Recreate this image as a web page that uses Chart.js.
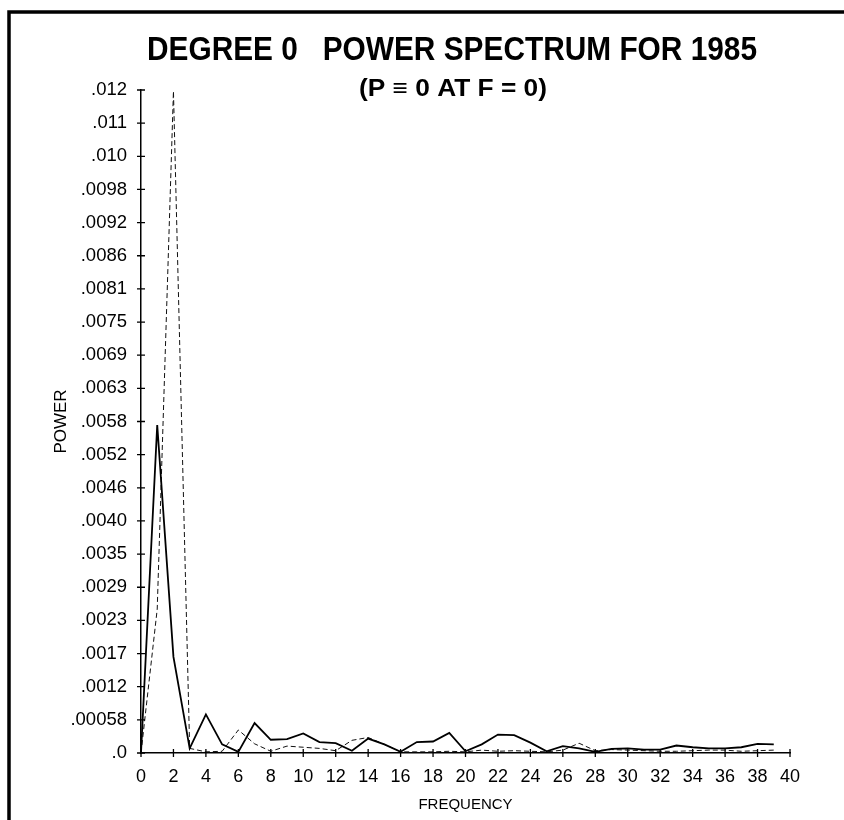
<!DOCTYPE html>
<html>
<head>
    <title>Degree 0 Power Spectrum for 1985</title>
    <script src="https://cdn.jsdelivr.net/npm/chart.js"></script>
    <style>
        html, body {
            margin: 0;
            padding: 0;
            background: #fff;
        }
        #wrap {
            position: relative;
            width: 844px;
            height: 820px;
        }
    </style>
</head>
<body>
    <div id="wrap">
        <canvas id="spectrumChart" width="844" height="820"></canvas>
    </div>

    <script>
        // frequency (cycles per year)
        const frequency = [0, 1, 2, 3, 4, 5, 6, 7, 8, 9, 10, 11, 12, 13, 14, 15, 16, 17, 18, 19,
                           20, 21, 22, 23, 24, 25, 26, 27, 28, 29, 30, 31, 32, 33, 34, 35, 36, 37, 38, 39];

        // solid curve
        const powerSolid = [0, 0.0057, 0.00167, 0.00008, 0.00067, 0.00015, 0.00002, 0.00052, 0.00023, 0.00024,
                            0.00034, 0.00019, 0.00017, 0.00004, 0.00025, 0.00015, 0.00002, 0.00019, 0.0002, 0.00035,
                            0.00003, 0.00015, 0.00032, 0.00031, 0.00018, 0.00003, 0.00012, 0.00008, 0.00002, 0.00007,
                            0.00008, 0.00006, 0.00006, 0.00013, 0.0001, 0.00008, 0.00008, 0.0001, 0.00016, 0.00015];

        // dashed curve
        const powerDashed = [0, 0.0025, 0.0115, 0.00008, 0.00002, 0.00003, 0.0004, 0.00016, 0.00003, 0.00012,
                             0.0001, 0.00008, 0.00004, 0.00022, 0.00027, 0.00015, 0.00002, 0.00002, 0.00002, 0.00003,
                             0.00002, 0.00005, 0.00003, 0.00004, 0.00003, 0.00002, 0.00005, 0.00017, 0.00004, 0.00006,
                             0.00005, 0.00004, 0.00003, 0.00003, 0.00004, 0.00005, 0.00005, 0.00003, 0.00004, 0.00005];

        // y axis labels as printed (21 evenly spaced ticks)
        const yTickLabels = ['.0', '.00058', '.0012', '.0017', '.0023', '.0029', '.0035', '.0040', '.0046', '.0052',
                             '.0058', '.0063', '.0069', '.0075', '.0081', '.0086', '.0092', '.0098', '.010', '.011', '.012'];
        const yMax = 0.01152;

        const xTickLabels = ['0', '2', '4', '6', '8', '10', '12', '14', '16', '18', '20',
                             '22', '24', '26', '28', '30', '32', '34', '36', '38', '40'];

        const titleText = 'DEGREE 0   POWER SPECTRUM FOR 1985';
        const subtitleText = '(P \u2261 0 AT F = 0)';

        const FONT = "'Liberation Sans', Arial, Helvetica, sans-serif";

        // frame, titles and tick marks that cross the axes
        const decor = {
            id: 'decor',
            beforeDraw(chart) {
                const ctx = chart.ctx;
                ctx.save();
                ctx.fillStyle = '#fff';
                ctx.fillRect(0, 0, chart.width, chart.height);
                ctx.strokeStyle = '#000';
                ctx.lineWidth = 3.5;
                ctx.beginPath();
                ctx.moveTo(9, 820);
                ctx.lineTo(9, 12);
                ctx.lineTo(844, 12);
                ctx.stroke();
                ctx.restore();
            },
            afterDraw(chart) {
                const ctx = chart.ctx;
                const area = chart.chartArea;
                ctx.save();
                ctx.fillStyle = '#000';
                ctx.textAlign = 'center';
                ctx.textBaseline = 'alphabetic';

                // squeezed bold titles
                ctx.font = 'bold 34px ' + FONT;
                let w = ctx.measureText(titleText).width;
                ctx.save();
                ctx.translate(452, 60);
                ctx.scale(610 / w, 1);
                ctx.fillText(titleText, 0, 0);
                ctx.restore();

                ctx.font = 'bold 24px ' + FONT;
                w = ctx.measureText(subtitleText).width;
                ctx.save();
                ctx.translate(453, 96);
                ctx.scale(188 / w, 1);
                ctx.fillText(subtitleText, 0, 0);
                ctx.restore();

                // tick marks crossing the axes
                ctx.strokeStyle = '#000';
                ctx.lineWidth = 1.3;
                ctx.beginPath();
                const ys = chart.scales.y;
                ys.ticks.forEach((t, i) => {
                    const py = ys.getPixelForTick(i);
                    ctx.moveTo(area.left - 4, py);
                    ctx.lineTo(area.left + 4, py);
                });
                const xs = chart.scales.x;
                xs.ticks.forEach((t, i) => {
                    const px = xs.getPixelForTick(i);
                    ctx.moveTo(px, area.bottom - 4);
                    ctx.lineTo(px, area.bottom + 4);
                });
                ctx.stroke();
                ctx.restore();
            }
        };

        const ctx = document.getElementById('spectrumChart').getContext('2d');
        const chart = new Chart(ctx, {
            type: 'line',
            plugins: [decor],
            data: {
                datasets: [
                    {
                        label: 'solid',
                        data: frequency.map((f, i) => ({ x: f, y: powerSolid[i] })),
                        borderColor: '#000',
                        borderWidth: 1.8,
                        pointRadius: 0,
                        tension: 0,
                        fill: false
                    },
                    {
                        label: 'dashed',
                        data: frequency.map((f, i) => ({ x: f, y: powerDashed[i] })),
                        borderColor: '#111',
                        borderWidth: 1,
                        borderDash: [5, 3],
                        pointRadius: 0,
                        tension: 0,
                        fill: false
                    }
                ]
            },
            options: {
                responsive: false,
                animation: false,
                layout: {
                    padding: { top: 90, right: 54, left: 0, bottom: 0 }
                },
                plugins: {
                    legend: { display: false },
                    tooltip: { enabled: false }
                },
                scales: {
                    x: {
                        type: 'linear',
                        min: 0,
                        max: 40,
                        afterBuildTicks: (scale) => {
                            scale.ticks = xTickLabels.map(l => ({ value: Number(l) }));
                        },
                        afterFit: (scale) => { scale.height = 67; },
                        grid: { display: false },
                        border: { display: true, color: '#000', width: 1.5 },
                        ticks: {
                            color: '#000',
                            padding: 5,
                            maxRotation: 0,
                            autoSkip: false,
                            font: { family: FONT, size: 18 },
                            callback: (v, i) => xTickLabels[i]
                        },
                        title: {
                            display: true,
                            text: 'FREQUENCY',
                            color: '#000',
                            font: { family: FONT, size: 15 },
                            padding: { top: 0, bottom: 6 }
                        }
                    },
                    y: {
                        type: 'linear',
                        min: 0,
                        max: yMax,
                        afterBuildTicks: (scale) => {
                            scale.ticks = yTickLabels.map((l, i) => ({ value: yMax * i / (yTickLabels.length - 1) }));
                        },
                        afterFit: (scale) => { scale.width = 141; },
                        grid: { display: false },
                        border: { display: true, color: '#000', width: 1.5 },
                        ticks: {
                            color: '#000',
                            padding: 6,
                            autoSkip: false,
                            font: { family: FONT, size: 18.5 },
                            callback: (v, i) => yTickLabels[i]
                        },
                        title: {
                            display: true,
                            text: 'POWER',
                            color: '#000',
                            font: { family: FONT, size: 17 },
                            padding: { top: 51, bottom: 0 }
                        }
                    }
                }
            }
        });
    </script>
</body>
</html>
